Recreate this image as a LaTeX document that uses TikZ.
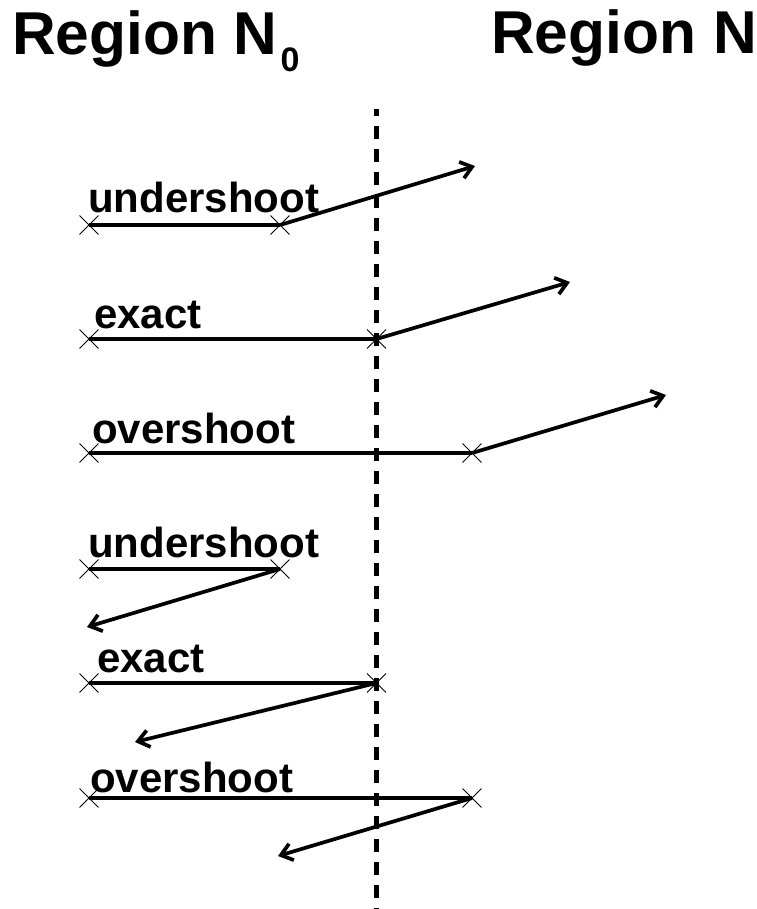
\documentclass[tikz,border=0pt]{standalone}
\usepackage{fontspec}
\setmainfont{Liberation Sans}
\usetikzlibrary{arrows.meta,shapes.misc}

\begin{document}
\begin{tikzpicture}[x=1pt, y=-1pt,
    hit/.style = {draw, cross out, minimum size=18pt, inner sep=0pt, line width=0.9pt},
    leg/.style = {line width=3.7pt},
    hop/.style = {line width=3.7pt, -{Straight Barb[length=11pt, width=17pt, line width=3.7pt]}},
    tag/.style = {anchor=base west, inner sep=0pt, font=\bfseries\fontsize{42}{42}\selectfont},
    title/.style = {anchor=base west, inner sep=0pt, font=\bfseries\fontsize{60.5}{60.5}\selectfont}
  ]
  \useasboundingbox (0,0) rectangle (756,909);

  % region titles
  \node[title] (regA) at (12,55) {Region N\kern3pt\raisebox{-17pt}{\fontsize{34}{34}\selectfont 0}};
  \node[title] (regB) at (491,54) {Region N};

  % boundary
  \coordinate (bdTop) at (376.5,109);
  \coordinate (bdBot) at (376.5,909);
  \draw[line width=4.2pt, dash pattern=on 13pt off 10pt, dash phase=6pt] (bdTop) -- (bdBot);

  % forward steps
  \node[tag] (lab1) at (88,213) {undershoot};
  \node[hit] (a1) at (89,225) {};
  \node[hit] (b1) at (280,225) {};
  \coordinate (c1) at (475,166);
  \draw[leg] (a1.center) -- (b1.center);
  \draw[hop] (b1.center) -- (c1);

  \node[tag] (lab2) at (94,328) {exact};
  \node[hit] (a2) at (89,339) {};
  \node[hit] (b2) at (376.5,339) {};
  \coordinate (c2) at (570,282);
  \draw[leg] (a2.center) -- (b2.center);
  \draw[hop] (b2.center) -- (c2);

  \node[tag] (lab3) at (92,443) {overshoot};
  \node[hit] (a3) at (89,453) {};
  \node[hit] (b3) at (472,453) {};
  \coordinate (c3) at (666,395);
  \draw[leg] (a3.center) -- (b3.center);
  \draw[hop] (b3.center) -- (c3);

  % reflected steps
  \node[tag] (lab4) at (88,557) {undershoot};
  \node[hit] (a4) at (89,569) {};
  \node[hit] (b4) at (280,569) {};
  \coordinate (c4) at (87,627);
  \draw[leg] (a4.center) -- (b4.center);
  \draw[hop] (b4.center) -- (c4);

  \node[tag] (lab5) at (97,672) {exact};
  \node[hit] (a5) at (89,683) {};
  \node[hit] (b5) at (376.5,683) {};
  \coordinate (c5) at (135,742);
  \draw[leg] (a5.center) -- (b5.center);
  \draw[hop] (b5.center) -- (c5);

  \node[tag] (lab6) at (90,792) {overshoot};
  \node[hit] (a6) at (89,798) {};
  \node[hit] (b6) at (472,798) {};
  \coordinate (c6) at (278,856);
  \draw[leg] (a6.center) -- (b6.center);
  \draw[hop] (b6.center) -- (c6);
\end{tikzpicture}
\end{document}
